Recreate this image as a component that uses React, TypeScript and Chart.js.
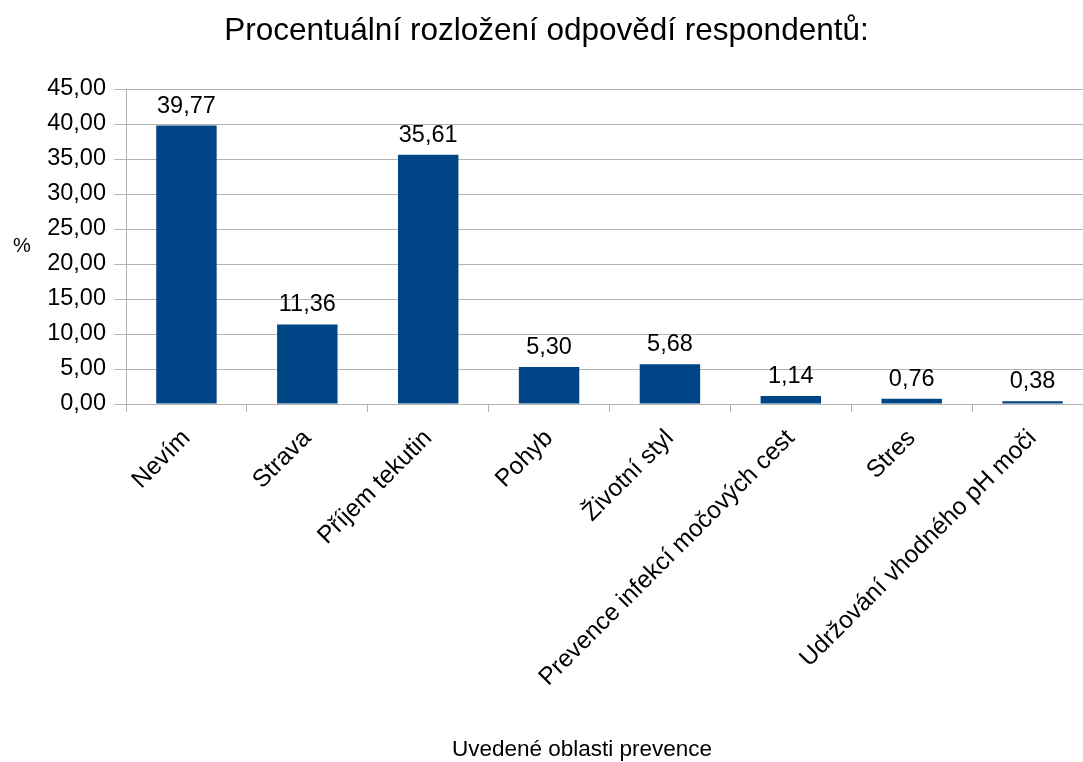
import React, { useEffect, useRef } from "react";
import { Chart, registerables } from "chart.js";

Chart.register(...registerables);

const categories = [
  "Nevím",
  "Strava",
  "Příjem tekutin",
  "Pohyb",
  "Životní styl",
  "Prevence infekcí močových cest",
  "Stres",
  "Udržování vhodného pH moči",
];
const values = [39.77, 11.36, 35.61, 5.3, 5.68, 1.14, 0.76, 0.38];
const yTicks = [0, 5, 10, 15, 20, 25, 30, 35, 40, 45];
const chartTitle = "Procentuální rozložení odpovědí respondentů:";
const xTitle = "Uvedené oblasti prevence";
const yTitle = "%";

const FONT = "'Liberation Sans', Arial, sans-serif";
const fmt = (v: number) => v.toFixed(2).replace(".", ",");

const labelsPlugin = {
  id: "valueLabels",
  afterDatasetsDraw(chart: any) {
    const ctx = chart.ctx;
    const meta = chart.getDatasetMeta(0);
    ctx.save();
    ctx.font = `23.5px ${FONT}`;
    ctx.fillStyle = "#000";
    ctx.textAlign = "center";
    ctx.textBaseline = "alphabetic";
    meta.data.forEach((bar: any, i: number) => {
      ctx.fillText(fmt(values[i]), bar.x, bar.y - 13);
    });
    ctx.restore();
  },
};

const axisTitlesPlugin = {
  id: "axisTitles",
  afterDraw(chart: any) {
    const ctx = chart.ctx;
    const ca = chart.chartArea;
    ctx.save();
    ctx.fillStyle = "#000";
    ctx.textBaseline = "middle";
    ctx.textAlign = "center";
    ctx.font = `20px ${FONT}`;
    ctx.fillText(yTitle, 22, (ca.top + ca.bottom) / 2);
    ctx.font = `22.5px ${FONT}`;
    ctx.fillText(xTitle, 582, 750);
    ctx.restore();
  },
};

export default function App() {
  const ref = useRef<HTMLCanvasElement>(null);
  useEffect(() => {
    if (!ref.current) return;
    const chart = new Chart(ref.current, {
      type: "bar",
      data: {
        labels: categories,
        datasets: [
          {
            data: values,
            backgroundColor: "#004586",
            borderWidth: 0,
            barPercentage: 0.5,
            categoryPercentage: 1,
          },
        ],
      },
      options: {
        responsive: false,
        animation: false,
        layout: { padding: { top: 0, left: 0, right: 8, bottom: 0 } },
        plugins: {
          legend: { display: false },
          tooltip: { enabled: false },
          title: {
            display: true,
            text: chartTitle,
            color: "#000",
            font: { family: FONT, size: 31.5, weight: "normal" },
            padding: { top: 12, bottom: 39.2 },
          },
        },
        scales: {
          x: {
            grid: {
              display: true,
              drawOnChartArea: false,
              offset: true,
              color: "#b3b3b3",
              tickLength: 8,
            },
            border: { color: "#b3b3b3" },
            ticks: {
              color: "#000",
              font: { family: FONT, size: 24.5 },
              maxRotation: 45,
              minRotation: 45,
              autoSkip: false,
              padding: 12,
            },
            afterFit: (scale: any) => {
              scale.height = 358;
            },
          },
          y: {
            min: 0,
            max: 45,
            grid: { color: "#b3b3b3", tickLength: 12 },
            border: { color: "#b3b3b3" },
            afterBuildTicks: (scale: any) => {
              scale.ticks = yTicks.map((v) => ({ value: v }));
            },
            ticks: {
              color: "#000",
              font: { family: FONT, size: 23.5 },
              padding: 8,
              callback: (v: any) => fmt(Number(v)),
            },
            afterFit: (scale: any) => {
              scale.width = 126;
            },
          },
        },
      },
      plugins: [labelsPlugin, axisTitlesPlugin],
    });
    return () => chart.destroy();
  }, []);
  return (
    <div
      style={{
        position: "fixed",
        left: 0,
        top: 0,
        width: 1083,
        height: 762,
        overflow: "hidden",
        background: "#fff",
      }}
    >
      <canvas ref={ref} width={1101} height={762} style={{ display: "block" }} />
    </div>
  );
}
